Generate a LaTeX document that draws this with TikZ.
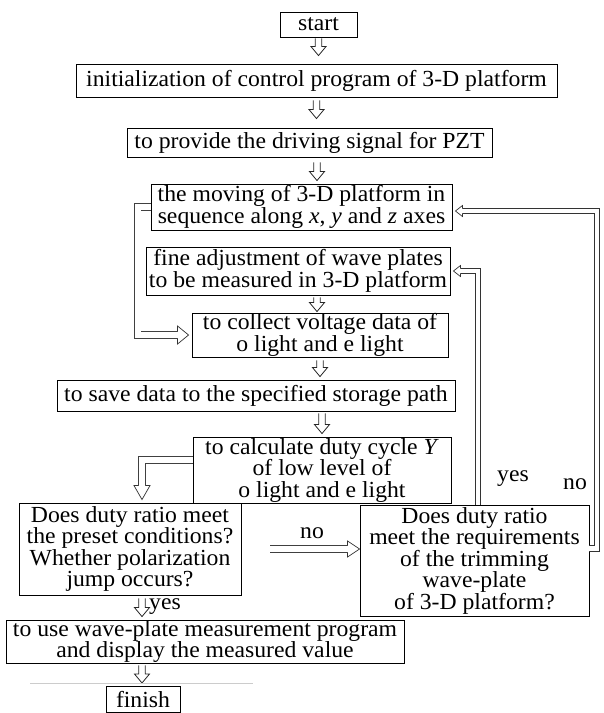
\documentclass[tikz,border=0pt]{standalone}
\usepackage{fontspec}
\setmainfont{Liberation Serif}[FakeStretch=1.03]
\usetikzlibrary{calc}
\tikzset{
  box/.style={draw=black, line width=0.9pt, inner sep=0pt, align=center, font=\fontsize{23}{21.5}\selectfont},
  lbl/.style={inner sep=0pt, font=\fontsize{23}{21.5}\selectfont},
  harrow/.style={draw=black!85, line width=0.8pt, line join=miter},
  hshaft/.style={draw=black!75, line width=0.7pt, double=white, double distance=6pt},
  tshaft/.style={draw=black!80, line width=0.9pt, double=white, double distance=4.5pt},
  hhead/.style={draw=black!80, fill=white, line width=0.7pt},
}
% hollow vertical block arrow: source, target, gap at top, gap at tip
\newcommand\hvarrow[4]{%
  \draw[harrow] let \p1=(#1), \p2=(#2) in
    (\x1-3.2pt,\y1-#3) -- (\x1-3.2pt,\y2+#4+9pt) -- (\x1-7.5pt,\y2+#4+9pt) -- (\x1,\y2+#4)
    -- (\x1+7.5pt,\y2+#4+9pt) -- (\x1+3.2pt,\y2+#4+9pt) -- (\x1+3.2pt,\y1-#3);}
% open head for double shafts: tip, shaft half, head half, length, angle
\newcommand\shafthead[5]{%
  \filldraw[hhead, shift={(#1)}, rotate=#5]
    (-#4,#2) -- (-#4,#3) -- (0,0) -- (-#4,-#3) -- (-#4,-#2);}
\begin{document}
\begin{tikzpicture}[x=1pt, y=1pt]
\useasboundingbox (0,0) rectangle (604,-713);
\fill[white] (0,0) rectangle (604,-713);

% boxes
\node[box, minimum width=77pt,  minimum height=25pt]  (start)   at (318.5,-24.5) {start};
\node[box, minimum width=481pt, minimum height=33pt]  (init)    at (316.5,-80.5) {initialization of control program of 3-D platform};
\node[box, minimum width=365pt, minimum height=29pt]  (pzt)     at (309.5,-142.5) {to provide the driving signal for PZT};
\node[box, minimum width=301pt, minimum height=46pt]  (moving)  at (301.5,-207) {the moving of 3-D platform in\\sequence along \textit{x}, \textit{y} and \textit{z} axes};
\node[box, minimum width=304pt, minimum height=48pt]  (fine)    at (298,-271) {fine adjustment of wave plates\\to be measured in 3-D platform};
\node[box, minimum width=256pt, minimum height=44pt]  (collect) at (320,-335) {to collect voltage data of\\o light and e light};
\node[box, minimum width=398pt, minimum height=31pt]  (save)    at (256,-395.5) {to save data to the specified storage path};
\node[box, minimum width=258pt, minimum height=66pt]  (calc)    at (322,-470) {to calculate duty cycle \textit{Y}\\of low level of\\o light and e light};
\node[box, minimum width=222pt, minimum height=92pt]  (does)    at (130,-549) {Does duty ratio meet\\the preset conditions?\\Whether polarization\\jump occurs?};
\node[box, minimum width=229pt, minimum height=111pt] (rbox)    at (474.5,-560.5) {Does duty ratio\\meet the requirements\\of the trimming\\wave-plate\\of 3-D platform?};
\node[box, minimum width=398pt, minimum height=43pt]  (use)     at (205,-641.5) {to use wave-plate measurement program\\and display the measured value};
\node[box, minimum width=74pt,  minimum height=26pt, anchor=north]  (finish)  at (143,-686) {finish};

% labels
\node[lbl] (yes1) at (513,-479) {yes};
\node[lbl] (no1)  at (575,-484) {no};
\node[lbl] (no2)  at (312,-533) {no};
\node[lbl, anchor=west] (yes2) at (149,-607) {yes};

% helper columns
\coordinate (ax) at (317,0);
\coordinate (lc) at (142,0);
\coordinate (yb) at (478,0);
\coordinate (nx) at (597,0);

% straight hollow arrows
\hvarrow{start.south}{start.south |- init.north}{1pt}{8pt}
\hvarrow{init.south}{init.south |- pzt.north}{3pt}{9pt}
\hvarrow{ax |- pzt.south}{ax |- moving.north}{5pt}{3pt}
\hvarrow{ax |- fine.south}{ax |- collect.north}{2pt}{1pt}
\hvarrow{collect.south}{collect.south |- save.north}{3pt}{3pt}
\hvarrow{calc.north |- save.south}{calc.north}{2pt}{3pt}
\hvarrow{lc |- does.south}{lc |- use.north}{3pt}{3pt}
\hvarrow{lc |- use.south}{lc |- finish.north}{2pt}{3pt}

% faint line near finish
\draw[black!20, line width=0.5pt] (30,-683) -- (253,-683);

% left loop: moving -> collect
\draw[hshaft] (moving.west) -- ++(-13,0) |- ([xshift=-14pt]collect.west);
\shafthead{[xshift=-3pt]collect.west}{3.35}{9}{11}{0}

% calc -> does
\coordinate (dtop) at (lc |- does.north);
\draw[hshaft] ([yshift=10pt]calc.west) -| ([yshift=17pt]dtop);
\shafthead{[yshift=3pt]dtop}{3.35}{8}{14}{-90}

% does -> rbox (no)
\coordinate (nr) at (rbox.west |- does.east);
\draw[hshaft] ([xshift=29pt]does.east) -- ([xshift=-12pt]nr);
\shafthead{nr}{3.35}{8}{12}{0}

% yes loop: rbox -> fine
\draw[tshaft] (yb |- rbox.north) |- ([xshift=10pt]fine.east);
\shafthead{[xshift=3pt]fine.east}{2.65}{5.5}{7}{180}

% no loop: rbox -> moving
\coordinate (rno) at ([yshift=12pt]rbox.east);
\coordinate (mno) at ([xshift=10pt,yshift=-4pt]moving.east);
\draw[tshaft] (rno) -- (rno -| nx) -- (nx |- mno) -- (mno);
\shafthead{[xshift=3pt,yshift=-4pt]moving.east}{2.65}{5.5}{7}{180}
\end{tikzpicture}
\end{document}
